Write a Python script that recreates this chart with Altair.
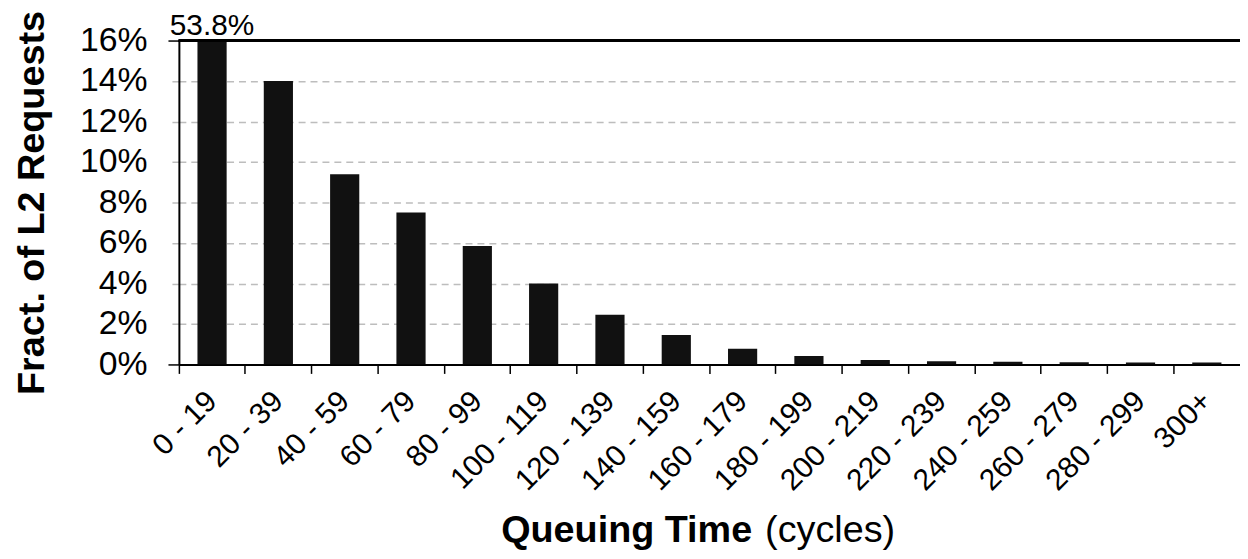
import altair as alt
import pandas as pd

categories = ["0 - 19", "20 - 39", "40 - 59", "60 - 79", "80 - 99", "100 - 119",
              "120 - 139", "140 - 159", "160 - 179", "180 - 199", "200 - 219",
              "220 - 239", "240 - 259", "260 - 279", "280 - 299", "300+"]
values = [53.8, 14.0, 9.4, 7.5, 5.85, 4.0, 2.45, 1.45, 0.78, 0.42, 0.22, 0.16,
          0.13, 0.11, 0.1, 0.1]
y_ticks = [0, 2, 4, 6, 8, 10, 12, 14, 16]

df = pd.DataFrame({"cat": categories, "val": values})

W, H = 1068, 326
FONT = "Liberation Sans"
PAD_INNER = 0.56

edge = "datum.value == 0 || datum.value == 16"

x_enc = alt.X(
    "cat:N", sort=categories,
    scale=alt.Scale(paddingInner=PAD_INNER, paddingOuter=PAD_INNER / 2),
    axis=alt.Axis(
        title=None, labelAngle=-45, labelAlign="right", labelBaseline="middle",
        labelFontSize=30, labelFont=FONT, labelColor="black", labelPadding=23,
        bandPosition=-PAD_INNER / (2 * (1 - PAD_INNER)),
        tickSize=9, tickColor="black", tickWidth=1.5,
        domainColor="black", domainWidth=2, grid=False, labelOverlap=False,
    ),
)
y_enc = alt.Y(
    "val:Q",
    scale=alt.Scale(domain=[0, 16], nice=False),
    axis=alt.Axis(
        title="Fract. of L2 Requests", titleFontSize=38, titleFont=FONT,
        titleFontWeight="bold", titleColor="black", titlePadding=28,
        values=y_ticks, labelExpr="datum.value + '%'",
        labelFontSize=34, labelFont=FONT, labelColor="black", labelPadding=21,
        tickSize=11,
        tickColor={"condition": {"test": edge, "value": "black"}, "value": "#bdbdbd"},
        tickDash={"condition": {"test": edge, "value": []}, "value": [7, 5]},
        tickWidth=1.5,
        grid=True, gridColor="#bdbdbd", gridDash=[7, 5], gridWidth=1.5,
        domainColor="black", domainWidth=2,
    ),
)

bars = alt.Chart(df).mark_bar(color="#111111", clip=True).encode(x=x_enc, y=y_enc)

top_rule = alt.Chart(df).mark_rule(color="black", strokeWidth=2).encode(
    y=alt.datum(16)
)

label = alt.Chart(df).transform_filter("datum.val > 16").transform_calculate(
    capped="min(datum.val, 16)", txt="format(datum.val, '.1f') + '%'"
).mark_text(fontSize=30, font=FONT, baseline="alphabetic", dy=-6, color="black").encode(
    x=alt.X("cat:N", sort=categories), y=alt.Y("capped:Q"), text="txt:N"
)

title_bold = alt.Chart(df).transform_filter("datum.cat == '0 - 19'").mark_text(
    fontSize=38, font=FONT, fontWeight="bold", align="right", baseline="alphabetic",
    color="black"
).encode(x=alt.value(577), y=alt.value(505), text=alt.value("Queuing Time"))

title_norm = alt.Chart(df).transform_filter("datum.cat == '0 - 19'").mark_text(
    fontSize=38, font=FONT, align="left", baseline="alphabetic", color="black"
).encode(x=alt.value(590), y=alt.value(505), text=alt.value("(cycles)"))

chart = alt.layer(bars, top_rule, label, title_bold, title_norm).properties(
    width=W, height=H,
    autosize=alt.AutoSizeParams(type="none"),
    padding={"left": 172, "top": 31, "right": 0, "bottom": 186},
    background="white",
).configure_view(stroke=None)

chart.save("out.html", embed_options={"renderer": "svg", "actions": False})
